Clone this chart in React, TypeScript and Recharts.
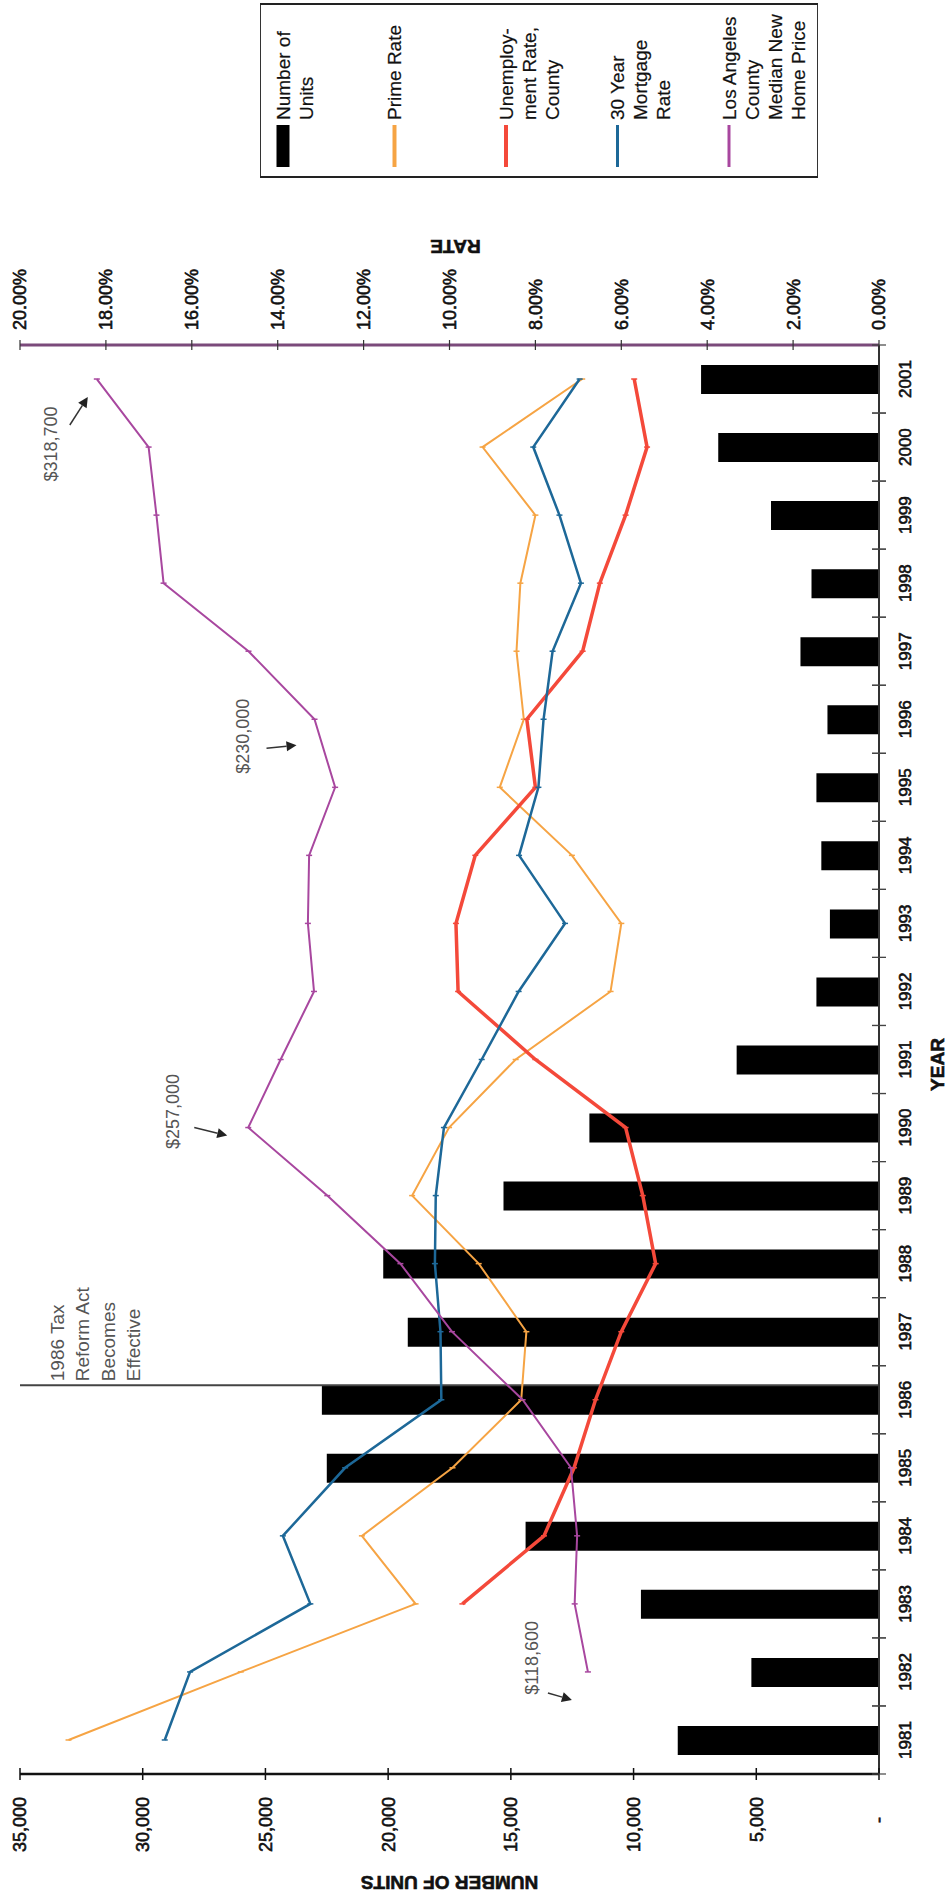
import {
  ComposedChart,
  Bar,
  Line,
  XAxis,
  YAxis,
  Legend,
  ReferenceLine,
  Label,
} from "recharts";

const FONT = "'Liberation Sans', Arial, Helvetica, sans-serif";

const ORANGE = "#f6a444";
const RED = "#f4493a";
const BLUE = "#1d6898";
const PURPLE = "#a8479f";

// Annual figures, 1981-2001
const years = [
  "1981", "1982", "1983", "1984", "1985", "1986", "1987",
  "1988", "1989", "1990", "1991", "1992", "1993", "1994",
  "1995", "1996", "1997", "1998", "1999", "2000", "2001",
];
const housingUnits = [
  8200, 5200, 9700, 14400, 22500, 22700, 19200,
  20200, 15300, 11800, 5800, 2550, 2000, 2350,
  2550, 2100, 3200, 2750, 4400, 6550, 7250,
];
const primeRate = [
  18.87, 14.86, 10.79, 12.04, 9.93, 8.33, 8.21,
  9.32, 10.87, 10.01, 8.46, 6.25, 6.0, 7.15,
  8.83, 8.27, 8.44, 8.35, 8.0, 9.23, 6.91,
];
const unemploymentRate = [
  null, null, 9.7, 7.8, 7.1, 6.6, 6.0,
  5.2, 5.5, 5.9, 8.0, 9.8, 9.85, 9.4,
  8.0, 8.2, 6.9, 6.5, 5.9, 5.4, 5.7,
];
const mortgageRate = [
  16.63, 16.04, 13.24, 13.88, 12.43, 10.19, 10.21,
  10.34, 10.32, 10.13, 9.25, 8.39, 7.31, 8.38,
  7.93, 7.81, 7.6, 6.94, 7.44, 8.05, 6.97,
];
const medianHomePrice = [
  null, 118600, 124000, 123000, 125500, 145200, 174000,
  195000, 224800, 257000, 243800, 230200, 232700, 232200,
  221600, 230000, 256900, 291500, 294400, 297600, 318700,
];
const unitTicks = [0, 5000, 10000, 15000, 20000, 25000, 30000, 35000];
const rateTicks = [0, 2, 4, 6, 8, 10, 12, 14, 16, 18, 20];
const reformYear = "1986";
const reformNote = ["1986 Tax", "Reform Act", "Becomes", "Effective"];

// home price shares the units axis at 1/10 scale
const data = years.map((year, i) => ({
  year,
  units: housingUnits[i],
  prime: primeRate[i],
  unemployment: unemploymentRate[i],
  mortgage: mortgageRate[i],
  price: medianHomePrice[i],
  priceScaled: medianHomePrice[i] == null ? null : (medianHomePrice[i] as number) / 10,
}));

// where each price callout sits relative to its point
const callouts: Record<string, { text: number[]; tail: number[]; head: number[] }> = {
  "1982": { text: [-56, -14], tail: [-40, 21], head: [-16, 28] },
  "1990": { text: [-76, -16], tail: [-54, 0], head: [-21, 8] },
  "1996": { text: [-72, 17], tail: [-48, 29], head: [-18, 26] },
  "2001": { text: [-46, 65], tail: [-27, 46], head: [-9, 18] },
};

const legendEntries = [
  { label: ["Number of", "Units"], color: "#000", width: 13 },
  { label: ["Prime Rate"], color: ORANGE, width: 4 },
  { label: ["Unemploy-", "ment Rate,", "County"], color: RED, width: 4 },
  { label: ["30 Year", "Mortgage", "Rate"], color: BLUE, width: 3 },
  { label: ["Los Angeles", "County", "Median New", "Home Price"], color: PURPLE, width: 3 },
];

const BAR_SIZE = 29;
const UNIT_TICK = { size: 6, margin: 17 };
const RATE_TICK = { size: 5, margin: 10 };
const YEAR_TICK = { size: 8, margin: 18 };

const tickText = {
  fontFamily: FONT,
  fontSize: 18,
  fill: "#111",
  stroke: "#111",
  strokeWidth: 0.6,
};

const withCommas = (v: number) => String(v).replace(/\B(?=(\d{3})+(?!\d))/g, ",");
const formatUnits = (v: number) => (v === 0 ? "-" : withCommas(v));
const formatPrice = (v: number) => "$" + withCommas(v);

const UnitTick = ({ x, y, payload }: any) => {
  const axisY = y - UNIT_TICK.size - UNIT_TICK.margin;
  const zero = payload.value === 0;
  return (
    <g>
      <line x1={x} x2={x} y1={axisY - 6} y2={axisY + 6} stroke="#111" strokeWidth={1.5} />
      <text
        x={x}
        y={y}
        dx={zero ? -20 : 0}
        dy="0.36em"
        textAnchor="end"
        transform={`rotate(-90 ${x} ${y})`}
        {...tickText}
      >
        {formatUnits(payload.value)}
      </text>
    </g>
  );
};

const RateTick = ({ x, y, payload }: any) => {
  const axisY = y + RATE_TICK.size + RATE_TICK.margin;
  return (
    <g>
      <line x1={x} x2={x} y1={axisY - 5} y2={axisY + 5} stroke="#333" strokeWidth={1.2} />
      <text
        x={x}
        y={y}
        dy="0.36em"
        textAnchor="start"
        transform={`rotate(-90 ${x} ${y})`}
        {...tickText}
      >
        {`${Number(payload.value).toFixed(2)}%`}
      </text>
    </g>
  );
};

const YearTick = ({ x, y, payload }: any) => {
  const axisX = x - YEAR_TICK.size - YEAR_TICK.margin;
  const half = payload.offset ?? 0;
  return (
    <g>
      {[y - half, y + half].map((ty) => (
        <line key={ty} x1={axisX - 7} x2={axisX + 7} y1={ty} y2={ty} stroke="#444" strokeWidth={1.2} />
      ))}
      <text
        x={x}
        y={y}
        dy="0.36em"
        textAnchor="middle"
        transform={`rotate(-90 ${x} ${y})`}
        {...tickText}
        fontSize={17}
      >
        {payload.value}
      </text>
    </g>
  );
};

const axisTitle = (text: string, angle: number, place: (vb: any) => number[]) => (props: any) => {
  const [x, y] = place(props.viewBox);
  return (
    <text
      x={x}
      y={y}
      dy="0.36em"
      textAnchor="middle"
      transform={`rotate(${angle} ${x} ${y})`}
      fontFamily={FONT}
      fontSize={19}
      fontWeight="bold"
      fill="#111"
      stroke="#111"
      strokeWidth={0.6}
    >
      {text}
    </text>
  );
};

const Arrow = ({ from, to }: { from: number[]; to: number[] }) => {
  const dx = to[0] - from[0];
  const dy = to[1] - from[1];
  const len = Math.hypot(dx, dy) || 1;
  const ux = dx / len;
  const uy = dy / len;
  const bx = to[0] - ux * 10;
  const by = to[1] - uy * 10;
  const head = `${to[0]},${to[1]} ${bx - uy * 5},${by + ux * 5} ${bx + uy * 5},${by - ux * 5}`;
  return (
    <g>
      <line x1={from[0]} y1={from[1]} x2={bx} y2={by} stroke="#333" strokeWidth={1.5} />
      <polygon points={head} fill="#222" />
    </g>
  );
};

// small dash marker used on each series, plus the price callouts on the home price line
const makeDot = (color: string, withCallouts = false) => (props: any) => {
  const { cx, cy, payload } = props;
  const year = payload?.year;
  if (cx == null || cy == null) return <g key={`d-${year}`} />;
  const c = withCallouts ? callouts[year] : undefined;
  const price = payload?.price;
  return (
    <g key={`d-${year}`}>
      <line x1={cx - 3} x2={cx + 3} y1={cy} y2={cy} stroke={color} strokeWidth={1.5} />
      {c && price != null && (
        <g>
          <text
            x={cx + c.text[0]}
            y={cy + c.text[1]}
            dy="0.36em"
            textAnchor="middle"
            transform={`rotate(-90 ${cx + c.text[0]} ${cy + c.text[1]})`}
            fontFamily={FONT}
            fontSize={18}
            fill="#555"
          >
            {formatPrice(price)}
          </text>
          <Arrow
            from={[cx + c.tail[0], cy + c.tail[1]]}
            to={[cx + c.head[0], cy + c.head[1]]}
          />
        </g>
      )}
    </g>
  );
};

const ReformMarker = (props: any) => {
  const { x1, x2, y1 } = props;
  const y = y1 - BAR_SIZE / 2;
  const left = Math.min(x1, x2);
  const tx = left + 37;
  const ty = y - 4;
  return (
    <g>
      <line x1={x1} x2={x2} y1={y} y2={y} stroke="#444" strokeWidth={2} />
      <text
        x={tx}
        y={ty}
        transform={`rotate(-90 ${tx} ${ty})`}
        fontFamily={FONT}
        fontSize={19}
        fill="#555"
      >
        {reformNote.map((t, i) => (
          <tspan key={t} x={tx} dy={i === 0 ? "0.36em" : 25.5}>
            {t}
          </tspan>
        ))}
      </text>
    </g>
  );
};

const renderLegend = () => (
  <svg width={558} height={176} style={{ display: "block" }}>
    <rect x={0.5} y={0.5} width={557} height={174} fill="#fff" stroke="#333" />
    <line x1={0} x2={558} y1={1} y2={1} stroke="#222" strokeWidth={2} />
    <line x1={0} x2={558} y1={174} y2={174} stroke="#222" strokeWidth={2} />
    {legendEntries.map((e, i) => {
      const cx = 23 + i * 111.5;
      return (
        <g key={e.label.join(" ")}>
          <line x1={cx} x2={cx} y1={122} y2={164} stroke={e.color} strokeWidth={e.width} />
          <text
            x={cx}
            y={117}
            transform={`rotate(-90 ${cx} 117)`}
            fontFamily={FONT}
            fontSize={19}
            fill="#111"
            stroke="#111"
            strokeWidth={0.2}
          >
            {e.label.map((t, j) => (
              <tspan key={t} x={cx} dy={j === 0 ? "0.36em" : 23}>
                {t}
              </tspan>
            ))}
          </text>
        </g>
      );
    })}
  </svg>
);

export default function App() {
  return (
    <div
      style={{
        position: "absolute",
        left: 0,
        top: 0,
        width: 947,
        height: 1900,
        background: "#fff",
      }}
    >
      <ComposedChart
        width={947}
        height={1900}
        data={data}
        layout="vertical"
        margin={{ top: 225, right: 9, bottom: 0, left: 20 }}
      >
        <XAxis
          xAxisId="rate"
          type="number"
          orientation="top"
          domain={[0, 20]}
          ticks={rateTicks}
          reversed
          height={120}
          interval={0}
          tickSize={RATE_TICK.size}
          tickMargin={RATE_TICK.margin}
          tickLine={false}
          axisLine={{ stroke: "#7b4a7b", strokeWidth: 3 }}
          tick={(p: any) => <RateTick {...p} />}
        >
          <Label content={axisTitle("RATE", 180, (vb) => [vb.x + vb.width / 2 + 6, vb.y + 22])} />
        </XAxis>
        <XAxis
          xAxisId="units"
          type="number"
          orientation="bottom"
          domain={[0, 35000]}
          ticks={unitTicks}
          reversed
          height={126}
          interval={0}
          tickSize={UNIT_TICK.size}
          tickMargin={UNIT_TICK.margin}
          tickLine={false}
          axisLine={{ stroke: "#111", strokeWidth: 2.5 }}
          tick={(p: any) => <UnitTick {...p} />}
        >
          <Label
            content={axisTitle("NUMBER OF UNITS", 180, (vb) => [vb.x + vb.width / 2, vb.y + 109])}
          />
        </XAxis>
        <YAxis
          yAxisId="year"
          type="category"
          dataKey="year"
          orientation="right"
          reversed
          width={59}
          interval={0}
          tickSize={YEAR_TICK.size}
          tickMargin={YEAR_TICK.margin}
          tickLine={false}
          axisLine={{ stroke: "#333", strokeWidth: 2 }}
          tick={(p: any) => <YearTick {...p} />}
        >
          <Label
            content={axisTitle("YEAR", -90, (vb) => [vb.x + vb.width - 1, vb.y + vb.height / 2 + 5])}
          />
        </YAxis>
        <YAxis
          yAxisId="edge"
          type="category"
          dataKey="year"
          orientation="left"
          reversed
          width={0}
          tick={false}
          tickLine={false}
          stroke="#888"
          axisLine={{ stroke: "#888", strokeWidth: 1 }}
        />
        <Legend
          layout="horizontal"
          verticalAlign="middle"
          align="center"
          content={renderLegend}
          wrapperStyle={{ top: 3, left: 260, width: 558, height: 176 }}
        />
        <Bar
          dataKey="units"
          xAxisId="units"
          yAxisId="year"
          fill="#000"
          barSize={BAR_SIZE}
          isAnimationActive={false}
        />
        <ReferenceLine
          xAxisId="units"
          yAxisId="year"
          y={reformYear}
          shape={(p: any) => <ReformMarker {...p} />}
        />
        <Line
          type="linear"
          dataKey="prime"
          xAxisId="rate"
          yAxisId="year"
          stroke={ORANGE}
          strokeWidth={2}
          dot={makeDot(ORANGE)}
          activeDot={false}
          isAnimationActive={false}
        />
        <Line
          type="linear"
          dataKey="unemployment"
          xAxisId="rate"
          yAxisId="year"
          stroke={RED}
          strokeWidth={3.5}
          dot={makeDot(RED)}
          activeDot={false}
          isAnimationActive={false}
        />
        <Line
          type="linear"
          dataKey="mortgage"
          xAxisId="rate"
          yAxisId="year"
          stroke={BLUE}
          strokeWidth={2.5}
          dot={makeDot(BLUE)}
          activeDot={false}
          isAnimationActive={false}
        />
        <Line
          type="linear"
          dataKey="priceScaled"
          xAxisId="units"
          yAxisId="year"
          stroke={PURPLE}
          strokeWidth={2}
          dot={makeDot(PURPLE, true)}
          activeDot={false}
          isAnimationActive={false}
        />
      </ComposedChart>
    </div>
  );
}
